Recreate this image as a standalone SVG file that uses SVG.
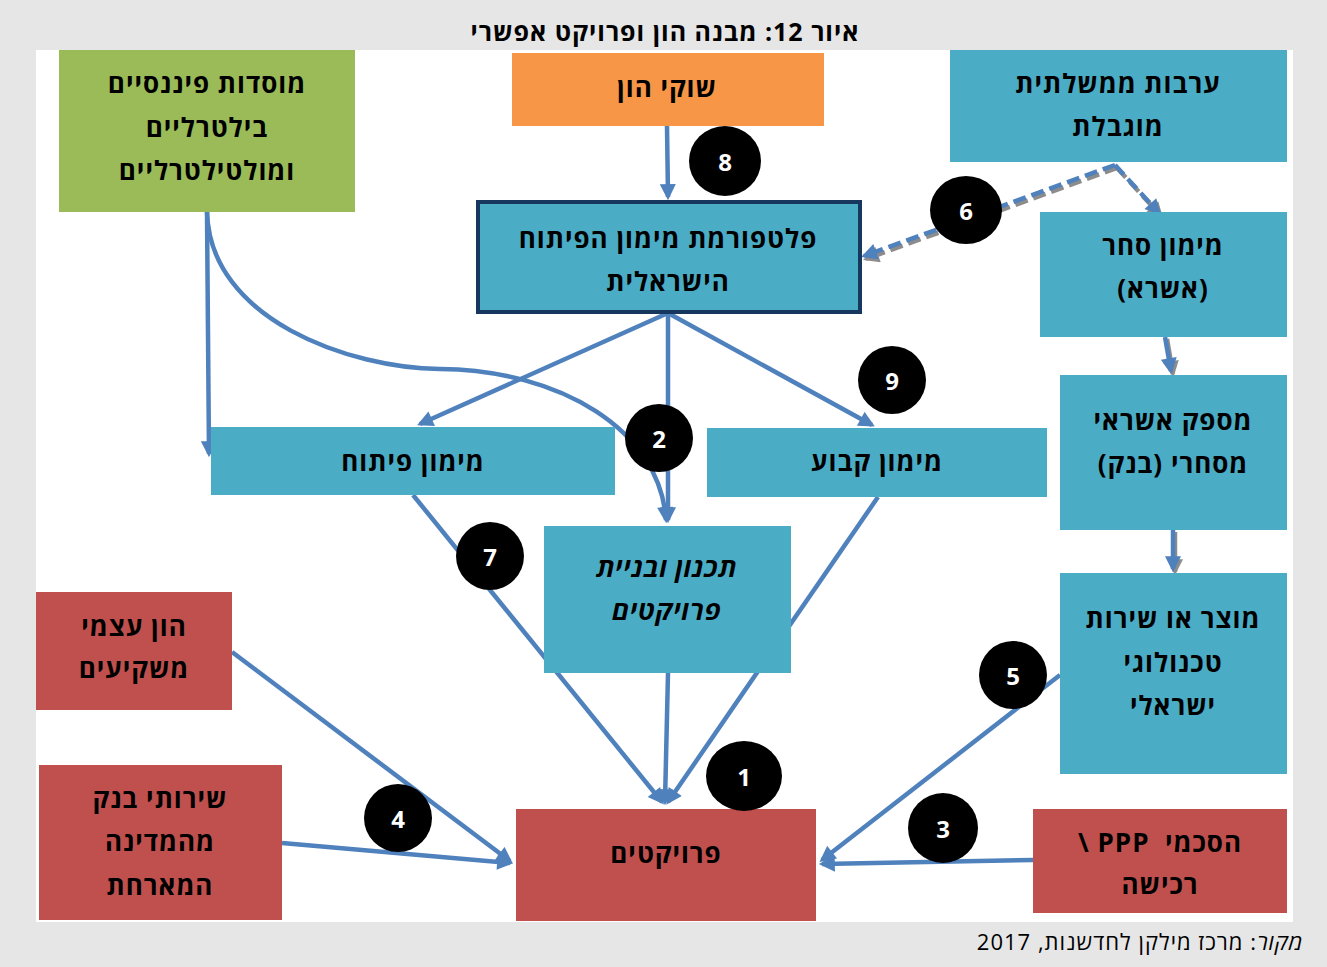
<svg xmlns="http://www.w3.org/2000/svg" width="1327" height="967" viewBox="0 0 1327 967">
<defs>
<marker id="ah" viewBox="0 0 10 10" refX="8" refY="5" markerWidth="18" markerHeight="16" markerUnits="userSpaceOnUse" orient="auto"><path d="M0,0 L10,5 L0,10 z" fill="#4f81bd"/></marker>
<marker id="ahs" viewBox="0 0 10 10" refX="8" refY="5" markerWidth="18" markerHeight="16" markerUnits="userSpaceOnUse" orient="auto"><path d="M0,0 L10,5 L0,10 z" fill="#8c8c8c"/></marker>
</defs>
<style>
.bx{stroke:none}
.blue{fill:#4bacc6}
.red{fill:#c0504d}
.t{font-family:"Open Sans","Liberation Sans","DejaVu Sans",sans-serif;font-weight:bold;font-size:26px;letter-spacing:1px;fill:#000;text-anchor:middle;dominant-baseline:central;direction:rtl}
.c{stroke:#4f81bd;stroke-width:4.5;fill:none}
.sh{stroke:#8c8c8c;stroke-width:4.5;fill:none}
.d{stroke-dasharray:13 6}
.badge{fill:#000}
.n{font-family:"Open Sans","Liberation Sans","DejaVu Sans",sans-serif;font-weight:bold;font-size:24px;fill:#fff;text-anchor:middle;dominant-baseline:central}
</style>
<rect x="0" y="0" width="1327" height="967" fill="#e6e6e6"/>
<rect x="36" y="50" width="1257" height="872" fill="#fff"/>
<text x="665" y="31" class="t" style="font-size:25px">איור 12: מבנה הון ופרויקט אפשרי</text>

<g id="connectors">
<path class="c" d="M667,126 L668,197" marker-end="url(#ah)"/>
<path class="c" d="M668,313 L420,424" marker-end="url(#ah)"/>
<path class="c" d="M668,313 L668,520" marker-end="url(#ah)"/>
<path class="c" d="M668,313 L872,425" marker-end="url(#ah)"/>
<path class="c" d="M207,212 L209,454" marker-end="url(#ah)"/>
<path class="c" d="M207,212 C210,320 350,368 440,369 C560,370 660,430 666,520" marker-end="url(#ah)"/>
<path class="c" d="M413,495 L662,802" marker-end="url(#ah)"/>
<path class="c" d="M878,497 L668,802" marker-end="url(#ah)"/>
<path class="c" d="M668,673 L665,802" marker-end="url(#ah)"/>
<path class="c" d="M232,652 L510,861" marker-end="url(#ah)"/>
<path class="c" d="M282,843 L510,863" marker-end="url(#ah)"/>
<path class="c" d="M1033,860 L822,864" marker-end="url(#ah)"/>
<path class="c" d="M1060,675 L822,860" marker-end="url(#ah)"/>
<path class="sh d" d="M1117,168 L866,259" marker-end="url(#ahs)"/>
<path class="sh d" d="M1117,168 L1161,216" marker-end="url(#ahs)"/>
<path class="c d" d="M1115,165 L864,256" marker-end="url(#ah)"/>
<path class="c d" d="M1115,165 L1159,213" marker-end="url(#ah)"/>
<path class="sh" d="M1167,339 L1173,374" marker-end="url(#ahs)"/>
<path class="c" d="M1165,337 L1171,371" marker-end="url(#ah)"/>
<path class="sh" d="M1175,532 L1175,572" marker-end="url(#ahs)"/>
<path class="c" d="M1173,530 L1173,569" marker-end="url(#ah)"/>
</g>

<g id="n-institutions"><rect class="bx" x="59" y="50" width="296" height="162" fill="#9bbb59"/>
<text class="t" x="207" y="83">מוסדות פיננסיים</text><text class="t" x="207" y="127">בילטרליים</text><text class="t" x="207" y="170">ומולטילטרליים</text></g>
<g id="n-capital-markets"><rect class="bx" x="512" y="53" width="312" height="73" fill="#f79646"/>
<text class="t" x="667" y="87">שוקי הון</text></g>
<g id="n-guarantee"><rect class="bx blue" x="950" y="50" width="337" height="112"/>
<text class="t" x="1118" y="83">ערבות ממשלתית</text><text class="t" x="1118" y="126">מוגבלת</text></g>
<g id="n-platform"><rect x="478" y="202" width="382" height="110" fill="#4bacc6" stroke="#17375e" stroke-width="4"/>
<text class="t" x="668" y="238">פלטפורמת מימון הפיתוח</text><text class="t" x="668" y="281">הישראלית</text></g>
<g id="n-trade"><rect class="bx blue" x="1040" y="212" width="247" height="125"/>
<text class="t" x="1163" y="245">מימון סחר</text><text class="t" x="1163" y="288">(אשרא)</text></g>
<g id="n-bank"><rect class="bx blue" x="1060" y="375" width="227" height="155"/>
<text class="t" x="1173" y="420">מספק אשראי</text><text class="t" x="1173" y="463">מסחרי (בנק)</text></g>
<g id="n-product"><rect class="bx blue" x="1060" y="573" width="227" height="201"/>
<text class="t" x="1173" y="618">מוצר או שירות</text><text class="t" x="1173" y="662">טכנולוגי</text><text class="t" x="1173" y="705">ישראלי</text></g>
<g id="n-dev"><rect class="bx blue" x="211" y="427" width="404" height="68"/>
<text class="t" x="413" y="461">מימון פיתוח</text></g>
<g id="n-fixed"><rect class="bx blue" x="707" y="428" width="340" height="69"/>
<text class="t" x="877" y="461">מימון קבוע</text></g>
<g id="n-planning"><rect class="bx blue" x="544" y="526" width="247" height="147"/>
<text class="t" x="667" y="567" font-style="italic">תכנון ובניית</text><text class="t" x="667" y="610" font-style="italic">פרויקטים</text></g>
<g id="n-equity"><rect class="bx red" x="36" y="592" width="196" height="118"/>
<text class="t" x="134" y="626">הון עצמי</text><text class="t" x="134" y="668">משקיעים</text></g>
<g id="n-hostbank"><rect class="bx red" x="39" y="765" width="243" height="155"/>
<text class="t" x="160" y="798">שירותי בנק</text><text class="t" x="160" y="841">מהמדינה</text><text class="t" x="160" y="885">המארחת</text></g>
<g id="n-projects"><rect class="bx red" x="516" y="809" width="300" height="112"/>
<text class="t" x="666" y="853">פרויקטים</text></g>
<g id="n-ppp"><rect class="bx red" x="1033" y="809" width="254" height="104"/>
<text class="t" x="1160" y="842" xml:space="preserve">הסכמי  PPP \</text><text class="t" x="1160" y="884">רכישה</text></g>

<g id="badges">
<ellipse class="badge" cx="725" cy="161" rx="36" ry="35"/><text class="n" x="725" y="161">8</text>
<ellipse class="badge" cx="966" cy="210" rx="36" ry="34"/><text class="n" x="966" y="210">6</text>
<ellipse class="badge" cx="892" cy="380" rx="34" ry="34"/><text class="n" x="892" y="380">9</text>
<ellipse class="badge" cx="659" cy="438" rx="34" ry="34"/><text class="n" x="659" y="438">2</text>
<ellipse class="badge" cx="490" cy="556" rx="34" ry="34"/><text class="n" x="490" y="556">7</text>
<ellipse class="badge" cx="744" cy="776" rx="38" ry="35"/><text class="n" x="744" y="776">1</text>
<ellipse class="badge" cx="1013" cy="675" rx="34" ry="34"/><text class="n" x="1013" y="675">5</text>
<ellipse class="badge" cx="398" cy="818" rx="34" ry="34"/><text class="n" x="398" y="818">4</text>
<ellipse class="badge" cx="943" cy="828" rx="35" ry="35"/><text class="n" x="943" y="828">3</text>
</g>

<text x="1140" y="941" class="t" style="font-weight:normal;font-size:22px"><tspan font-style="italic">מקור</tspan>: מרכז מילקן לחדשנות, 2017</text>
</svg>
